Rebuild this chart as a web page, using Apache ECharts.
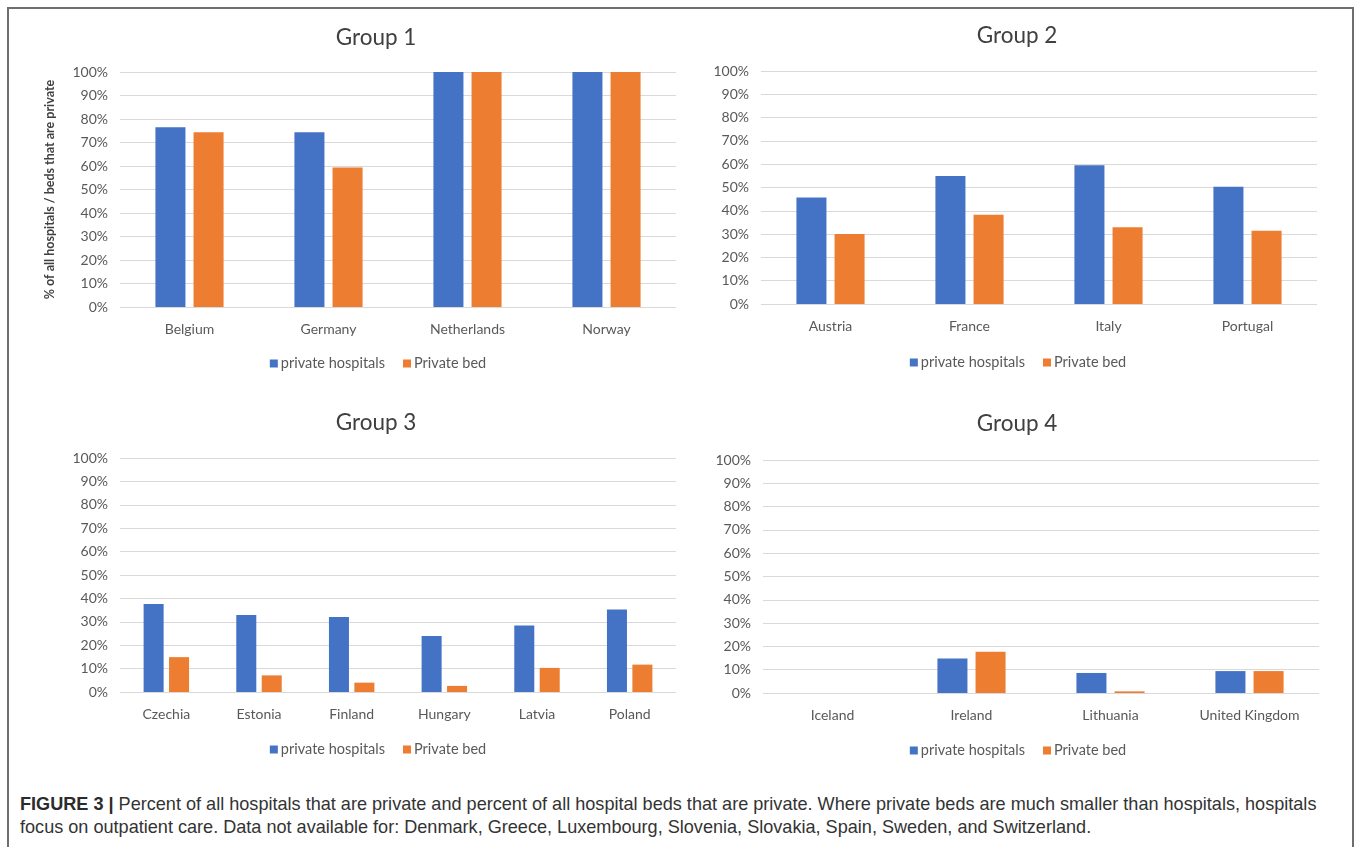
<!DOCTYPE html>
<html>
<head>
<meta charset="utf-8">
<title>Private hospitals and private beds by country group</title>
<script src="https://cdn.jsdelivr.net/npm/echarts@6/dist/echarts.min.js"></script>
<style>
  html, body { margin: 0; padding: 0; background: #ffffff; }
  #frame {
    position: absolute; left: 7px; top: 7px; width: 1347px; height: 860px;
    border: 2px solid #6e6e6e; box-sizing: border-box;
  }
  #chart { position: absolute; left: 0; top: 0; width: 1357px; height: 780px; }
  #caption {
    position: absolute; left: 20px; top: 793px; width: 1330px; white-space: nowrap;
    font-family: "Liberation Sans", Arial, sans-serif; font-size: 18.1px;
    line-height: 23px; color: #333333;
  }
  #caption b { color: #2b2b2b; }
</style>
</head>
<body>
<div id="frame"></div>
<div id="chart"></div>
<div id="caption"><b>FIGURE 3 |</b> Percent of all hospitals that are private and percent of all hospital beds that are private. Where private beds are much smaller than hospitals, hospitals<br>focus on outpatient care. Data not available for: Denmark, Greece, Luxembourg, Slovenia, Slovakia, Spain, Sweden, and Switzerland.</div>
<script>
// Country groups and their shares (percent)
const groupTitles = ['Group 1', 'Group 2', 'Group 3', 'Group 4'];

const group1Countries = ['Belgium', 'Germany', 'Netherlands', 'Norway'];
const group1Hospitals = [76.5, 74.4, 100, 100];
const group1Beds = [74.4, 59.4, 100, 100];

const group2Countries = ['Austria', 'France', 'Italy', 'Portugal'];
const group2Hospitals = [45.7, 54.9, 59.6, 50.3];
const group2Beds = [30.0, 38.3, 32.9, 31.4];

const group3Countries = ['Czechia', 'Estonia', 'Finland', 'Hungary', 'Latvia', 'Poland'];
const group3Hospitals = [37.6, 32.9, 32.1, 23.9, 28.4, 35.3];
const group3Beds = [14.9, 7.1, 4.0, 2.6, 10.3, 11.7];

const group4Countries = ['Iceland', 'Ireland', 'Lithuania', 'United Kingdom'];
const group4Hospitals = [0, 14.8, 8.6, 9.4];
const group4Beds = [0, 17.7, 0.7, 9.4];

const seriesNames = ['private hospitals', 'Private bed'];
const seriesColors = ['#4472C4', '#ED7D31'];
const yAxisName = '% of all hospitals / beds that are private';

const groups = [
  { countries: group1Countries, hospitals: group1Hospitals, beds: group1Beds },
  { countries: group2Countries, hospitals: group2Hospitals, beds: group2Beds },
  { countries: group3Countries, hospitals: group3Hospitals, beds: group3Beds },
  { countries: group4Countries, hospitals: group4Hospitals, beds: group4Beds }
];

// Panel layout (pixels): plot area, title position and legend line of each panel
const panels = [
  { left: 120, top: 72,  width: 556, height: 235, titleX: 371,  titleY: 21,  legendX: 378,  legendY: 364 },
  { left: 761, top: 71,  width: 556, height: 233, titleX: 1012, titleY: 19,  legendX: 1018, legendY: 363 },
  { left: 120, top: 458, width: 556, height: 234, titleX: 371,  titleY: 406, legendX: 378,  legendY: 750 },
  { left: 763, top: 460, width: 556, height: 233, titleX: 1012, titleY: 407, legendX: 1018, legendY: 751 }
];

const font = 'Lato, "Open Sans", sans-serif';
const labelColor = '#595959';
const legendFontSize = 14.5;
const legendIcon = 8;
const legendGap = 18;
const legendTextGap = 3; // 5px default spacing minus the -2px text padding

// Legend width, used to center each legend under its panel
const measureCtx = document.createElement('canvas').getContext('2d');
measureCtx.font = legendFontSize + 'px ' + font;
const legendWidth = seriesNames.reduce((w, n) => w + legendIcon + legendTextGap + measureCtx.measureText(n).width, 0) + legendGap;

const option = {
  animation: false,
  textStyle: { fontFamily: font },
  title: [], grid: [], xAxis: [], yAxis: [], legend: [], series: []
};

groups.forEach((g, i) => {
  const p = panels[i];
  option.title.push({
    text: groupTitles[i], left: p.titleX, top: p.titleY, textAlign: 'center',
    textStyle: { fontFamily: font, fontSize: 22.5, fontWeight: 'normal', color: '#404040' }
  });
  option.grid.push({ left: p.left, top: p.top, width: p.width, height: p.height, containLabel: false });
  option.xAxis.push({
    type: 'category', gridIndex: i, data: g.countries,
    axisLine: { show: false }, axisTick: { show: false },
    axisLabel: { color: labelColor, fontSize: 14, fontFamily: font, margin: 15 }
  });
  option.yAxis.push({
    type: 'value', gridIndex: i, min: 0, max: 100, interval: 10,
    name: i === 0 ? yAxisName : '', nameLocation: 'middle', nameGap: 64, nameRotate: 90,
    nameTextStyle: { fontSize: 12.5, fontWeight: 'bold', color: '#404040', fontFamily: font },
    axisLine: { show: false }, axisTick: { show: false },
    axisLabel: { color: labelColor, fontSize: 14, fontFamily: font, margin: 12, formatter: '{value}%' },
    splitLine: { lineStyle: { color: '#D9D9D9', width: 1 } }
  });
  option.legend.push({
    data: seriesNames, left: p.legendX - legendWidth / 2 - 5, top: p.legendY - 13, orient: 'horizontal',
    icon: 'rect', itemWidth: legendIcon, itemHeight: legendIcon, itemGap: legendGap,
    textStyle: { color: labelColor, fontSize: legendFontSize, fontFamily: font, padding: [0, 0, 0, -2] },
    selectedMode: false
  });
  [g.hospitals, g.beds].forEach((vals, k) => {
    option.series.push({
      name: seriesNames[k], type: 'bar', xAxisIndex: i, yAxisIndex: i,
      data: vals, barWidth: '21.6%', barGap: '27%',
      itemStyle: { color: seriesColors[k] }
    });
  });
});

const chart = echarts.init(document.getElementById('chart'), null, { renderer: 'canvas' });
chart.setOption(option);
</script>
</body>
</html>
